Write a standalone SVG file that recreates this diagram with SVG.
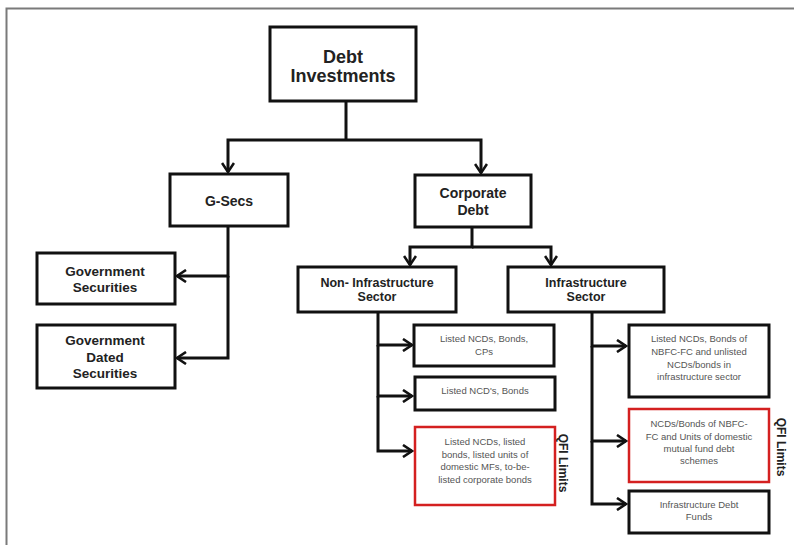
<svg xmlns="http://www.w3.org/2000/svg" width="794" height="545" viewBox="0 0 794 545">
<defs>
<style>
.box{fill:#fff;stroke:#111;stroke-width:3}
.red{fill:#fff;stroke:#d42020;stroke-width:2.5}
.h{font-family:"Liberation Sans",Arial,sans-serif;font-weight:bold;fill:#222;text-anchor:middle}
.s{font-family:"Liberation Sans",Arial,sans-serif;font-size:9.5px;fill:#555;text-anchor:middle}
.q{font-family:"Liberation Sans",Arial,sans-serif;font-weight:bold;font-size:12px;fill:#222;text-anchor:middle}
.c{fill:none;stroke:#111;stroke-width:3}
.frame{stroke:#7a7a7a;stroke-width:2;fill:none}
</style>
<marker id="arr" viewBox="0 0 12 14" markerUnits="userSpaceOnUse" markerWidth="12" markerHeight="14" refX="10" refY="7" orient="auto">
<path d="M1,1 L10,7 L1,13" fill="none" stroke="#111" stroke-width="2.6"/>
</marker>
</defs>
<rect width="794" height="545" fill="#fff"/>
<path class="frame" d="M6.5,545 V8.5 H794"/>

<g id="connectors">
<path class="c" d="M346,101 V140"/>
<path class="c" d="M346,140 H228 V172" marker-end="url(#arr)"/>
<path class="c" d="M346,140 H481 V173" marker-end="url(#arr)"/>
<path class="c" d="M228,226 V276 H177" marker-end="url(#arr)"/>
<path class="c" d="M228,276 V358 H177" marker-end="url(#arr)"/>
<path class="c" d="M472,227 V247 H410 V265" marker-end="url(#arr)"/>
<path class="c" d="M472,247 H551 V265" marker-end="url(#arr)"/>
<path class="c" d="M378,312 V345 H412" marker-end="url(#arr)"/>
<path class="c" d="M378,345 V396 H412" marker-end="url(#arr)"/>
<path class="c" d="M378,396 V451 H412" marker-end="url(#arr)"/>
<path class="c" d="M592,312 V346 H626" marker-end="url(#arr)"/>
<path class="c" d="M592,346 V441 H626" marker-end="url(#arr)"/>
<path class="c" d="M592,441 V504 H626" marker-end="url(#arr)"/>
</g>

<g id="debt-investments">
<rect class="box" x="270" y="27" width="146" height="74" stroke-width="3.5"/>
<text class="h" x="343" y="63" font-size="18">Debt</text>
<text class="h" x="343" y="82" font-size="18">Investments</text>
</g>

<g id="g-secs">
<rect class="box" x="170" y="174" width="118" height="52"/>
<text class="h" x="229" y="206" font-size="14">G-Secs</text>
</g>

<g id="corporate-debt">
<rect class="box" x="415" y="175" width="116" height="52"/>
<text class="h" x="473" y="198" font-size="14">Corporate</text>
<text class="h" x="473" y="215" font-size="14">Debt</text>
</g>

<g id="government-securities">
<rect class="box" x="37" y="253" width="138" height="51"/>
<text class="h" x="105" y="276" font-size="13.5">Government</text>
<text class="h" x="105" y="292" font-size="13.5">Securities</text>
</g>

<g id="government-dated-securities">
<rect class="box" x="37" y="325" width="138" height="63"/>
<text class="h" x="105" y="345" font-size="13.5">Government</text>
<text class="h" x="105" y="362" font-size="13.5">Dated</text>
<text class="h" x="105" y="378" font-size="13.5">Securities</text>
</g>

<g id="non-infrastructure-sector">
<rect class="box" x="298" y="267" width="158" height="45"/>
<text class="h" x="377" y="287" font-size="12.5">Non- Infrastructure</text>
<text class="h" x="377" y="301" font-size="12.5">Sector</text>
</g>

<g id="infrastructure-sector">
<rect class="box" x="508" y="267" width="156" height="45"/>
<text class="h" x="586" y="287" font-size="12.5">Infrastructure</text>
<text class="h" x="586" y="301" font-size="12.5">Sector</text>
</g>

<g id="listed-ncds-bonds-cps">
<rect class="box" x="414" y="325" width="140" height="41"/>
<text class="s" x="484" y="342">Listed NCDs, Bonds,</text>
<text class="s" x="484" y="355">CPs</text>
</g>

<g id="listed-ncds-bonds">
<rect class="box" x="415" y="377" width="140" height="33"/>
<text class="s" x="485" y="394">Listed NCD's, Bonds</text>
</g>

<g id="listed-ncds-listed-bonds">
<rect class="red" x="415" y="427" width="140" height="78"/>
<text class="s" x="485" y="445">Listed NCDs, listed</text>
<text class="s" x="485" y="458">bonds, listed units of</text>
<text class="s" x="485" y="470">domestic MFs, to-be-</text>
<text class="s" x="485" y="483">listed corporate bonds</text>
</g>

<g id="qfi-limits-1">
<text class="q" transform="translate(563,463) rotate(90)" y="4">QFI Limits</text>
</g>

<g id="listed-ncds-nbfc">
<rect class="box" x="629" y="325" width="140" height="72"/>
<text class="s" x="699" y="342">Listed NCDs, Bonds of</text>
<text class="s" x="699" y="355">NBFC-FC and unlisted</text>
<text class="s" x="699" y="368">NCDs/bonds in</text>
<text class="s" x="699" y="380">infrastructure sector</text>
</g>

<g id="ncds-bonds-nbfc-units">
<rect class="red" x="629" y="409" width="140" height="73"/>
<text class="s" x="699" y="427">NCDs/Bonds of NBFC-</text>
<text class="s" x="699" y="440">FC and Units of domestic</text>
<text class="s" x="699" y="452">mutual fund debt</text>
<text class="s" x="699" y="464">schemes</text>
</g>

<g id="qfi-limits-2">
<text class="q" transform="translate(781,447) rotate(90)" y="4">QFI Limits</text>
</g>

<g id="infrastructure-debt-funds">
<rect class="box" x="629" y="491" width="140" height="42"/>
<text class="s" x="699" y="508">Infrastructure Debt</text>
<text class="s" x="699" y="520">Funds</text>
</g>
</svg>
